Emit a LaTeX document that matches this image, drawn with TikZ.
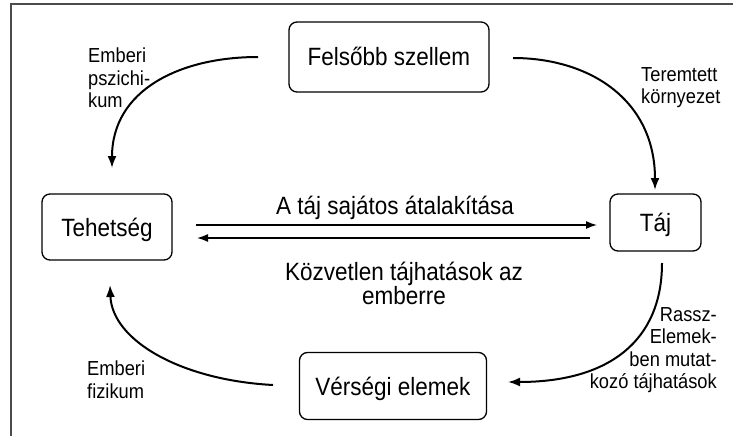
\documentclass[tikz,border=0pt]{standalone}
\usepackage{fontspec}
\setmainfont{Liberation Sans}
\newfontfamily\condfont[FakeStretch=0.9]{Liberation Sans}
\usetikzlibrary{arrows.meta}
\begin{document}
\begin{tikzpicture}[x=1pt,y=-1pt,
  box/.style={draw, rounded corners=8pt, line width=1.3pt, font=\condfont\fontsize{25}{29}\selectfont, text height=18pt, text depth=0pt, inner sep=0pt},
  lbl/.style={font=\condfont\fontsize{20.3}{22.5}\selectfont, inner sep=0pt},
  big/.style={font=\condfont\fontsize{25}{24}\selectfont, inner sep=0pt},
  curve/.style={line width=2pt, -{Latex[length=12pt,width=9pt]}},
  straight/.style={line width=1.5pt, -{Latex[length=11pt,width=8pt]}}]
\useasboundingbox (0,0) rectangle (733,436);
\draw[black!70, line width=1.5pt] (11,436) -- (11,4) -- (733,4);

\node[box, minimum width=200pt, minimum height=70pt] (fel) at (389,57) {Felsőbb szellem};
\node[box, minimum width=130pt, minimum height=66pt] (teh) at (107,227) {Tehetség};
\node[box, minimum width=91pt, minimum height=57pt] (taj) at (655.5,222.5) {Táj};
\node[box, minimum width=187pt, minimum height=67pt] (ver) at (393,386) {Vérségi elemek};

\coordinate (a1) at (258,57);  \coordinate (a2) at (112,168);
\coordinate (b1) at (513,58);  \coordinate (b2) at (655,190);
\coordinate (c1) at (662,263); \coordinate (c2) at (508,382);
\coordinate (d1) at (273,385); \coordinate (d2) at (110,285);
\coordinate (r1) at (196,225); \coordinate (r2) at (597,225);
\coordinate (l1) at (590,238); \coordinate (l2) at (197,238);

\draw[curve] (a1) .. controls (180,57) and (112,90) .. (a2);
\draw[curve] (b1) .. controls (590,58) and (655,100) .. (b2);
\draw[curve] (c1) .. controls (662,340) and (610,382) .. (c2);
\draw[curve] (d1) .. controls (180,380) and (112,340) .. (d2);
\draw[straight] (r1) -- (r2);
\draw[straight] (l1) -- (l2);

\node[lbl, anchor=north west, align=left] (t1) at (88,48) {Emberi\\pszichi-\\kum};
\node[lbl, anchor=north west, align=left] (t2) at (641,67) {Teremtett\\környezet};
\node[lbl, anchor=north east, align=right] (t3) at (717,307) {Rassz-\\Elemek-\\ben mutat-\\kozó tájhatások};
\node[lbl, anchor=north west, align=left] (t4) at (87,361) {Emberi\\fizikum};
\node[big, anchor=base] (t5) at (395,214) {A táj sajátos átalakítása};
\node[big, anchor=north, align=center] (t6) at (404,262) {Közvetlen tájhatások az\\emberre};
\end{tikzpicture}
\end{document}
